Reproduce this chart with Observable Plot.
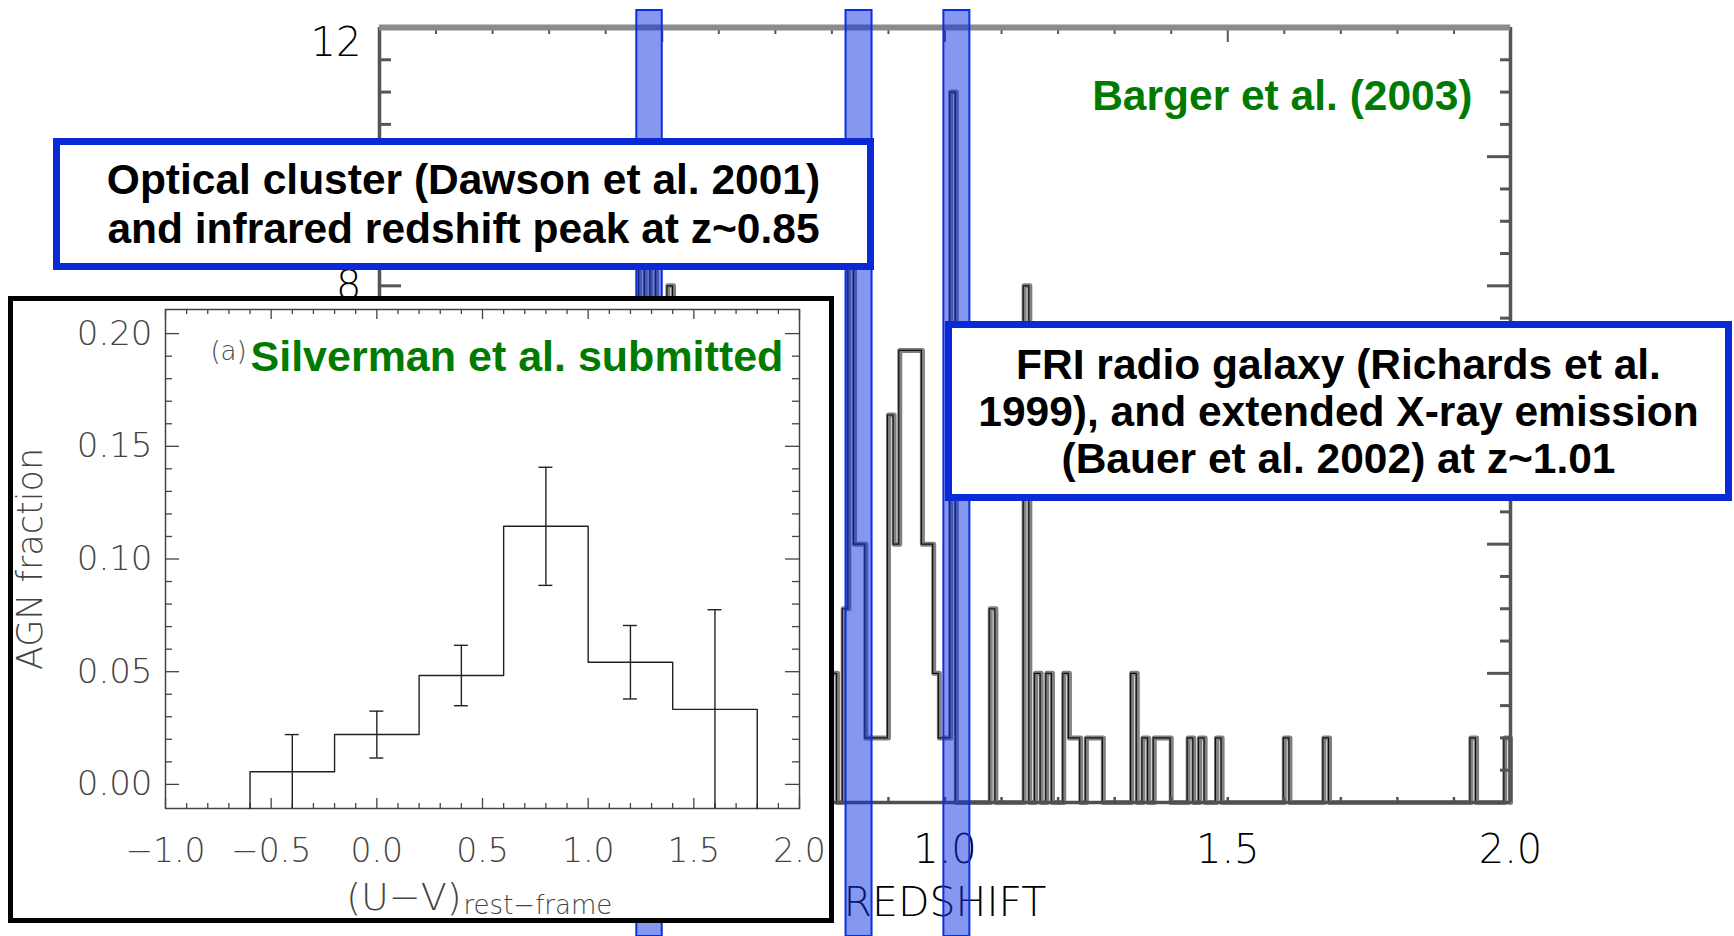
<!DOCTYPE html>
<html><head><meta charset="utf-8">
<script src="https://cdn.jsdelivr.net/npm/d3@7"></script>
<script src="https://cdn.jsdelivr.net/npm/@observablehq/plot@0.6"></script>
<style>
body{margin:0;background:#fff;}
#page{position:relative;width:1734px;height:936px;overflow:hidden;background:#fff;font-family:"Liberation Sans",Arial,Helvetica,sans-serif;}
#page svg{position:absolute;overflow:visible;}
.box{position:absolute;box-sizing:border-box;border:7px solid #0a2ad8;background:#fff;display:flex;flex-direction:column;justify-content:center;align-items:center;font-weight:bold;font-size:42.5px;color:#000;text-align:center;white-space:nowrap;}
#inset{position:absolute;left:8px;top:296px;width:826px;height:627px;box-sizing:border-box;border:5px solid #000;background:#fff;}
</style></head>
<body><div id="page"></div>
<script>
// ---------- data: main redshift histogram (Barger et al. 2003), bin width 0.01 ----------
const zBins   = [0.46,0.48,0.51,0.80,0.82,0.83,0.84,0.85,0.86,0.87,0.88,0.89,0.90,0.91,0.92,0.93,0.94,0.95,0.96,0.97,0.98,0.99,1.00,1.01,1.08,1.14,1.16,1.18,1.21,1.22,1.23,1.25,1.26,1.27,1.33,1.35,1.37,1.38,1.39,1.43,1.45,1.48,1.60,1.67,1.93,1.99];
const zCounts = [10,9,8,2,3,9,4,4,1,1,1,1,6,4,7,7,7,7,4,4,2,1,1,11,3,8,2,2,2,1,1,1,1,1,2,1,1,1,1,1,1,1,1,1,1,1];
const binWidth = 0.01;
const zDomain = [0, 2];
const countDomain = [0, 12];
// tick labels visible in the figure (the others lie under the inset / boxes)
const zLabels = [1.0, 1.5, 2.0];
const countLabels = [8, 12];
// highlighted redshift bands
const bandLo = [0.455, 0.825, 0.998];
const bandHi = [0.500, 0.871, 1.044];

// ---------- data: inset AGN fraction vs rest-frame U-V (Silverman et al.) ----------
const uvEdges = [-0.6, -0.2, 0.2, 0.6, 1.0, 1.4, 1.8];
const agnFrac = [0.0056, 0.0221, 0.0483, 0.1145, 0.0542, 0.0333];
const agnErr  = [0.0165, 0.0104, 0.0134, 0.0262, 0.0163, 0.0442];
const uvDomain = [-1, 2];
const fracDomain = [-0.0107, 0.2107];
const uvLabels = [-1.0, -0.5, 0.0, 0.5, 1.0, 1.5, 2.0];
const fracLabels = [0.00, 0.05, 0.10, 0.15, 0.20];

// ---------- text ----------
const box1Lines = ["Optical cluster (Dawson et al. 2001)", "and infrared redshift peak at z~0.85"];
const box2Lines = ["FRI radio galaxy (Richards et al.", "1999), and extended X-ray emission", "(Bauer et al. 2002) at z~1.01"];

const page = document.getElementById("page");
const THIN = "DejaVu Sans Light, DejaVu Sans, sans-serif";
const BOLD = "Liberation Sans, Arial, sans-serif";
const GREEN = "#007a00";

// ================= main chart =================
const W = 1734, H = 936;
const mM = {left: 379, right: 224, top: 27, bottom: 134};
const fW = W - mM.left - mM.right, fH = H - mM.top - mM.bottom;

const nBins = Math.round((zDomain[1] - zDomain[0]) / binWidth);
const counts = new Array(nBins).fill(0);
zBins.forEach((z, i) => { counts[Math.round(z / binWidth)] = zCounts[i]; });
const histPts = [{x: zDomain[0], y: 0}];
counts.forEach((c, i) => histPts.push({x: i * binWidth, y: c}));
histPts.push({x: zDomain[1], y: counts[nBins - 1]}, {x: zDomain[1], y: 0});

const xt = d3.range(0, 21).map(i => i / 10);
const xtMajor = xt.filter(d => Math.abs(d * 2 - Math.round(d * 2)) < 1e-9);
const xtMinor = xt.filter(d => !xtMajor.includes(d));
const yt = d3.range(1, 24).map(i => i / 2);
const ytMajor = yt.filter(d => d % 2 === 0);
const ytMinor = yt.filter(d => d % 2 !== 0);
const AX = "#555";

const mainSvg = Plot.plot({
  width: W, height: H,
  marginLeft: mM.left, marginRight: mM.right, marginTop: mM.top, marginBottom: mM.bottom,
  x: {domain: zDomain, axis: null},
  y: {domain: countDomain, axis: null},
  marks: [
    Plot.line(histPts, {x: "x", y: "y", curve: "step-after", stroke: "#808080", strokeWidth: 5}),
    Plot.line(histPts, {x: "x", y: "y", curve: "step-after", stroke: "#111", strokeWidth: 1.2, dx: -1}),
    // ticks
    Plot.ruleX(xtMinor, {x: d => d, insetBottom: fH - 7, stroke: AX, strokeWidth: 2}),
    Plot.ruleX(xtMajor, {x: d => d, insetBottom: fH - 15, stroke: AX, strokeWidth: 2}),
    Plot.ruleX(xt, {x: d => d, insetTop: fH - 5, stroke: AX, strokeWidth: 2.5}),
    Plot.ruleY(ytMinor, {y: d => d, insetRight: fW - 12, stroke: AX, strokeWidth: 3}),
    Plot.ruleY(ytMajor, {y: d => d, insetRight: fW - 22, stroke: AX, strokeWidth: 3}),
    Plot.ruleY(ytMinor, {y: d => d, insetLeft: fW - 10, stroke: AX, strokeWidth: 3}),
    Plot.ruleY(ytMajor, {y: d => d, insetLeft: fW - 23, stroke: AX, strokeWidth: 3}),
    // frame
    Plot.ruleX([zDomain[0]], {x: d => d, stroke: AX, strokeWidth: 3.5}),
    Plot.ruleX([zDomain[1]], {x: d => d, stroke: AX, strokeWidth: 3.5}),
    Plot.ruleY([countDomain[0]], {y: d => d, stroke: "#505050", strokeWidth: 3.5}),
    Plot.ruleY([countDomain[1]], {y: d => d, stroke: "#8c8c8c", strokeWidth: 6}),
    // tick labels
    Plot.text(zLabels, {x: d => d, frameAnchor: "bottom", dy: 48, lineAnchor: "middle", text: d => d.toFixed(1), fontSize: 40, fontFamily: THIN, fontWeight: 200, fill: "#000"}),
    Plot.text(countLabels.filter(d => d !== countDomain[1]), {y: d => d, frameAnchor: "left", dx: -18, textAnchor: "end", lineAnchor: "middle", text: d => String(d), fontSize: 40, fontFamily: THIN, fontWeight: 200, fill: "#000"}),
    Plot.text(countLabels.filter(d => d === countDomain[1]), {y: d => d, frameAnchor: "left", dx: -18, textAnchor: "end", lineAnchor: "top", text: d => String(d), fontSize: 40, fontFamily: THIN, fontWeight: 200, fill: "#000"}),
    Plot.text(["REDSHIFT"], {frameAnchor: "bottom", dy: 100, lineAnchor: "middle", textAnchor: "middle", fontSize: 41, fontFamily: THIN, fontWeight: 200, fill: "#000"}),
    Plot.text(["Barger et al. (2003)"], {frameAnchor: "top-right", dx: -38, dy: 69, textAnchor: "end", lineAnchor: "middle", fontSize: 42.5, fontWeight: "bold", fontFamily: BOLD, fill: GREEN})
  ]
});
mainSvg.style.left = "0px"; mainSvg.style.top = "0px";
page.appendChild(mainSvg);

// ================= highlight bands =================
const bands = bandLo.map((lo, i) => ({lo, hi: bandHi[i]}));
const bandSvg = Plot.plot({
  width: W, height: 926,
  marginLeft: mM.left, marginRight: mM.right, marginTop: 0, marginBottom: 0,
  x: {domain: zDomain, axis: null},
  marks: [
    Plot.rect(bands, {x1: "lo", x2: "hi", fill: "#0b2fe0", fillOpacity: 0.5, stroke: "#0b2fe0", strokeWidth: 2})
  ]
});
bandSvg.style.left = "0px"; bandSvg.style.top = "10px";
page.appendChild(bandSvg);

// ================= inset =================
const inset = document.createElement("div");
inset.id = "inset";
page.appendChild(inset);
const iW = 816, iH = 617;
const iM = {left: 152, right: 30, top: 8, bottom: 110};
const ifW = iW - iM.left - iM.right, ifH = iH - iM.top - iM.bottom;

const stepPts = [{x: uvEdges[0], y: fracDomain[0]}];
agnFrac.forEach((v, i) => stepPts.push({x: uvEdges[i], y: v}));
stepPts.push({x: uvEdges[uvEdges.length - 1], y: agnFrac[agnFrac.length - 1]});
stepPts.push({x: uvEdges[uvEdges.length - 1], y: fracDomain[0]});
const errRows = agnFrac.map((v, i) => ({
  x: (uvEdges[i] + uvEdges[i + 1]) / 2,
  lo: Math.max(fracDomain[0], v - agnErr[i]),
  hi: v + agnErr[i]
}));
const capHalf = 0.033;

const uvt = d3.range(-10, 21).map(i => i / 10);
const uvMajor = uvt.filter(d => Math.abs(d * 2 - Math.round(d * 2)) < 1e-9);
const uvMinor = uvt.filter(d => !uvMajor.includes(d));
const ft = d3.range(0, 21).map(i => i / 100);
const fMajor = ft.filter(d => Math.abs(d * 20 - Math.round(d * 20)) < 1e-9);
const fMinor = ft.filter(d => !fMajor.includes(d));
const IC = "#444";
const fmtUV = d => (d < 0 ? "\u2212" : "") + Math.abs(d).toFixed(1);

const insetSvg = Plot.plot({
  width: iW, height: iH,
  marginLeft: iM.left, marginRight: iM.right, marginTop: iM.top, marginBottom: iM.bottom,
  x: {domain: uvDomain, axis: null},
  y: {domain: fracDomain, axis: null},
  marks: [
    Plot.frame({stroke: IC, strokeWidth: 1.5}),
    Plot.ruleX(uvMinor, {x: d => d, insetTop: ifH - 5, stroke: IC, strokeWidth: 1.3}),
    Plot.ruleX(uvMajor, {x: d => d, insetTop: ifH - 10, stroke: IC, strokeWidth: 1.3}),
    Plot.ruleX(uvMinor, {x: d => d, insetBottom: ifH - 5, stroke: IC, strokeWidth: 1.3}),
    Plot.ruleX(uvMajor, {x: d => d, insetBottom: ifH - 10, stroke: IC, strokeWidth: 1.3}),
    Plot.ruleY(fMinor, {y: d => d, insetRight: ifW - 7, stroke: IC, strokeWidth: 1.3}),
    Plot.ruleY(fMajor, {y: d => d, insetRight: ifW - 14, stroke: IC, strokeWidth: 1.3}),
    Plot.ruleY(fMinor, {y: d => d, insetLeft: ifW - 7, stroke: IC, strokeWidth: 1.3}),
    Plot.ruleY(fMajor, {y: d => d, insetLeft: ifW - 14, stroke: IC, strokeWidth: 1.3}),
    Plot.line(stepPts, {x: "x", y: "y", curve: "step-after", stroke: "#222", strokeWidth: 1.4}),
    Plot.ruleX(errRows, {x: "x", y1: "lo", y2: "hi", stroke: "#222", strokeWidth: 1.4}),
    Plot.ruleY(errRows, {y: "hi", x1: d => d.x - capHalf, x2: d => d.x + capHalf, stroke: "#222", strokeWidth: 1.4}),
    Plot.ruleY(errRows.filter(d => d.lo > fracDomain[0]), {y: "lo", x1: d => d.x - capHalf, x2: d => d.x + capHalf, stroke: "#222", strokeWidth: 1.4}),
    Plot.text(uvLabels, {x: d => d, frameAnchor: "bottom", dy: 43, lineAnchor: "middle", textAnchor: "middle", text: fmtUV, fontSize: 33, fontFamily: THIN, fontWeight: 200, fill: IC}),
    Plot.text(fracLabels, {y: d => d, frameAnchor: "left", dx: -13, textAnchor: "end", lineAnchor: "middle", text: d => d.toFixed(2), fontSize: 34, fontFamily: THIN, fontWeight: 200, fill: IC}),
    Plot.text(["AGN fraction"], {frameAnchor: "left", dx: -135, rotate: -90, textAnchor: "middle", lineAnchor: "middle", fontSize: 35, fontFamily: THIN, fontWeight: 200, fill: IC}),
    Plot.text(["(U\u2212V)"], {frameAnchor: "bottom", dx: -21, dy: 89, textAnchor: "end", lineAnchor: "middle", fontSize: 38, fontFamily: THIN, fontWeight: 200, fill: IC}),
    Plot.text(["rest\u2212frame"], {frameAnchor: "bottom", dx: -19, dy: 97, textAnchor: "start", lineAnchor: "middle", fontSize: 26, fontFamily: THIN, fontWeight: 200, fill: IC}),
    Plot.text(["(a)"], {frameAnchor: "top-left", dx: 63, dy: 42, textAnchor: "middle", lineAnchor: "middle", fontSize: 26, fontFamily: THIN, fontWeight: 200, fill: IC}),
    Plot.text(["Silverman et al. submitted"], {frameAnchor: "top-left", dx: 85, dy: 48, textAnchor: "start", lineAnchor: "middle", fontSize: 43, fontWeight: "bold", fontFamily: BOLD, fill: GREEN})
  ]
});
insetSvg.style.left = "0px"; insetSvg.style.top = "0px";
inset.appendChild(insetSvg);

// ================= annotation boxes =================
function makeBox(lines, left, top, width, height, lineH) {
  const b = document.createElement("div");
  b.className = "box";
  Object.assign(b.style, {left: left + "px", top: top + "px", width: width + "px", height: height + "px", lineHeight: lineH + "px"});
  lines.forEach(t => { const s = document.createElement("div"); s.textContent = t; b.appendChild(s); });
  page.appendChild(b);
}
makeBox(box1Lines, 53, 138, 821, 132, 49);
makeBox(box2Lines, 945, 321, 787, 180, 47);
</script>
</body></html>
